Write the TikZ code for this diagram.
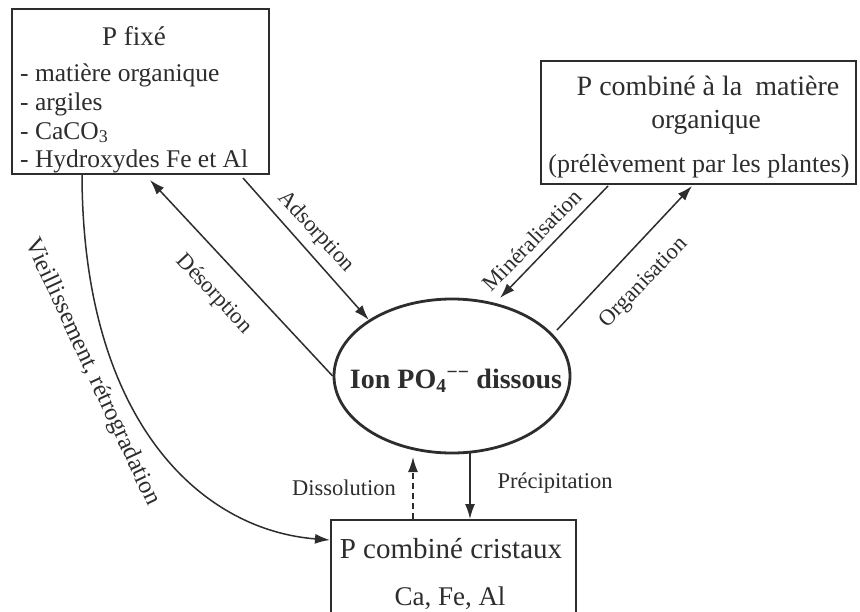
\documentclass[tikz,border=0pt]{standalone}
\usepackage{fontspec}
\setmainfont{Liberation Serif}
\usetikzlibrary{arrows.meta,shapes.geometric}
\definecolor{ink}{RGB}{45,45,45}
\begin{document}
\begin{tikzpicture}[x=1pt,y=-1pt,
  box/.style={draw=ink, line width=1.5pt, inner sep=0pt, anchor=north west},
  txt/.style={inner sep=0pt, text=ink},
  lab/.style={inner sep=0pt, text=ink, font=\fontsize{22.5}{25}\selectfont},
  arr/.style={draw=ink, line width=1.5pt, -{Latex[length=15pt,width=10pt]}},
]
\useasboundingbox (0,0) rectangle (860,611);
\clip (0,0) rectangle (860,611);
\fill[white] (0,0) rectangle (860,611);

% boxes
\node[box, minimum width=257pt, minimum height=165pt] (fixe) at (11,8) {};
\node[box, minimum width=315pt, minimum height=123pt] (orga) at (540,60) {};
\node[box, minimum width=245pt, minimum height=140pt] (crist) at (330,519) {};
\node[ellipse, draw=ink, line width=2.8pt, minimum width=236pt, minimum height=154pt, inner sep=0pt] (ion) at (452,376) {};

% texts in P fixe
\node[txt, anchor=base, font=\fontsize{27}{30}\selectfont] (t1) at (134,45) {P fixé};
\node[txt, anchor=base west, font=\fontsize{25.5}{28}\selectfont] (t2) at (20,81) {- matière organique};
\node[txt, anchor=base west, font=\fontsize{25.5}{28}\selectfont] (t3) at (20,110) {- argiles};
\node[txt, anchor=base west, font=\fontsize{25.5}{28}\selectfont] (t4) at (20,139) {- CaCO\textsubscript{3}};
\node[txt, anchor=base west, font=\fontsize{25.5}{28}\selectfont] (t5) at (20,167) {- Hydroxydes Fe et Al};

% texts in organic box
\node[txt, anchor=base, font=\fontsize{28}{30}\selectfont] (o1) at (708,95) {P combiné à la\hspace{13pt}matière};
\node[txt, anchor=base, font=\fontsize{27.5}{30}\selectfont] (o2) at (706,128) {organique};
\node[txt, anchor=base, font=\fontsize{26}{30}\selectfont] (o3) at (699,172) {(prélèvement par les plantes)};

% ellipse text
\node[txt, anchor=base, font=\bfseries\fontsize{28}{30}\selectfont] (i1) at (456,388) {Ion PO\textsubscript{4}\textsuperscript{−−} dissous};

% crystal box text
\node[txt, anchor=base, font=\fontsize{29}{32}\selectfont] (c1) at (451,558) {P combiné cristaux};
\node[txt, anchor=base, font=\fontsize{27}{30}\selectfont] (c2) at (450,605) {Ca, Fe, Al};

% connector end points
\coordinate (adsA) at (243,178);
\coordinate (adsB) at (ion.146);
\coordinate (desA) at (ion.west);
\coordinate (desB) at (150,180);
\coordinate (minA) at (608,186);
\coordinate (minB) at (500,298);
\coordinate (orgA) at (557,330);
\coordinate (orgB) at (692,186);
\coordinate (preA) at (470,453);
\coordinate (preB) at (470,519);
\coordinate (disA) at (413,519);
\coordinate (disB) at (413,457);
\coordinate (vieA) at (82,173);
\coordinate (vieB) at (330,540);

% connectors
\draw[arr] (adsA) -- (adsB);
\draw[arr] (desA) -- (desB);
\draw[arr] (minA) -- (minB);
\draw[arr] (orgA) -- (orgB);
\draw[arr] (preA) -- (preB);
\draw[arr, dash pattern=on 6pt off 4pt] (disA) -- (disB);
\draw[arr] (vieA) .. controls (82,420) and (200,530) .. (vieB);

% labels
\node[lab, rotate=-47] (lads) at (316,232) {Adsorption};
\node[lab, rotate=-47] (ldes) at (214,294) {Désorption};
\node[lab, rotate=46] (lmin) at (532,240) {Minéralisation};
\node[lab, rotate=46] (lorg) at (644,283) {Organisation};
\node[lab] (ldis) at (344,488) {Dissolution};
\node[lab] (lpre) at (555,483) {Précipitation};
\node[txt, rotate=-65, font=\fontsize{24.5}{28}\selectfont] (lvie) at (92,372) {Vieillissement, rétrogradation};
\end{tikzpicture}
\end{document}
